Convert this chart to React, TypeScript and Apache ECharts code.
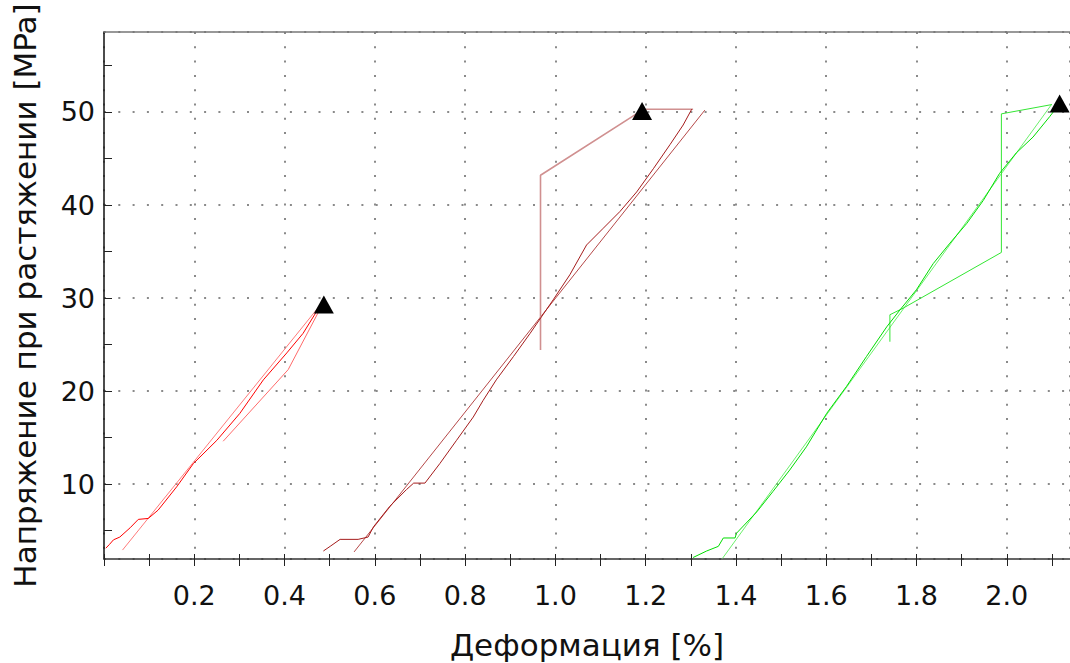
import React, { useEffect, useRef } from "react";
import * as echarts from "echarts";

// ---- data ----
const redMain: [number, number][] = [
  [0.004, 3.1], [0.012, 3.5], [0.021, 4.0], [0.035, 4.3], [0.058, 5.3], [0.076, 6.2],
  [0.098, 6.3], [0.12, 7.2], [0.161, 9.7], [0.198, 12.2], [0.25, 14.7], [0.301, 17.6],
  [0.353, 21.2], [0.405, 24.1], [0.441, 26.2], [0.478, 29.1],
];
const redFit: [number, number][] = [[0.041, 2.9], [0.48, 29.3]];
const redReturn: [number, number][] = [[0.264, 14.6], [0.408, 22.3], [0.485, 29.4]];

const brownMain: [number, number][] = [
  [0.486, 2.8], [0.501, 3.3], [0.523, 4.05], [0.563, 4.05], [0.585, 4.3], [0.597, 5.4],
  [0.633, 7.6], [0.67, 9.4], [0.686, 10.1], [0.711, 10.1], [0.744, 12.2], [0.781, 14.7],
  [0.818, 17.2], [0.84, 19.0], [0.869, 21.2], [0.907, 23.7], [0.944, 26.2], [0.995, 29.8],
  [1.032, 32.5], [1.069, 35.7], [1.106, 37.5], [1.143, 39.3], [1.18, 41.4], [1.217, 43.9],
  [1.254, 46.5], [1.283, 48.6], [1.302, 50.3],
];
const brownFit: [number, number][] = [[0.554, 2.7], [1.331, 50.2]];
const brownReturn: [number, number][] = [[0.967, 24.4], [0.967, 43.2], [1.196, 50.3], [1.305, 50.3]];

const greenMain: [number, number][] = [
  [1.305, 2.1], [1.335, 2.8], [1.361, 3.3], [1.372, 4.2], [1.398, 4.2], [1.401, 4.7],
  [1.446, 7.0], [1.482, 9.2], [1.519, 11.5], [1.556, 14.0], [1.601, 17.6], [1.645, 20.5],
  [1.689, 23.7], [1.734, 26.9], [1.763, 28.7], [1.8, 30.9], [1.837, 33.7], [1.874, 35.9],
  [1.911, 38.0], [1.948, 40.5], [1.984, 43.4], [2.021, 45.6], [2.058, 47.3], [2.095, 49.5],
  [2.106, 50.2],
];
const greenFit: [number, number][] = [[1.37, 2.0], [2.099, 50.8]];
const greenReturn: [number, number][] = [
  [1.741, 25.3], [1.741, 28.2], [1.77, 28.9], [1.988, 34.9], [1.988, 49.8], [2.1, 50.8],
];

const peaks: [number, number][] = [[0.487, 29.3], [1.192, 50.1], [2.117, 50.9]];

const xTitle = "Деформация [%]";
const yTitle = "Напряжение при растяжении [MPa]";

const FONT = "DejaVu Sans";
const Y_MIN = 1.94;
const Y_MAX = 58.6;

function line(data: [number, number][], color: string, width = 1) {
  return {
    type: "line",
    data,
    showSymbol: false,
    symbol: "none",
    lineStyle: { color, width },
    silent: true,
    z: 3,
  };
}

export default function App() {
  const ref = useRef<HTMLDivElement>(null);
  useEffect(() => {
    if (!ref.current) return;
    const chart = echarts.init(ref.current, undefined, { renderer: "svg" });
    const dotted = { type: [2, 12.3], width: 2, color: "#8a8a8a" };
    const near = (v: number, step: number) => Math.abs(v / step - Math.round(v / step)) < 1e-6;
    chart.setOption({
      animation: false,
      backgroundColor: "#fff",
      grid: { left: 104, top: 32, right: 0, bottom: 104, containLabel: false, outerBoundsMode: "none" },
      xAxis: [
        {
          type: "value",
          min: 0,
          max: 2.14,
          interval: 0.2,
          position: "bottom",
          axisLine: { show: true, lineStyle: { color: "#333", width: 1.5 } },
          axisTick: { show: true, inside: false, length: 7, lineStyle: { color: "#222" } },
          minorTick: { show: true, splitNumber: 2, length: 7, lineStyle: { color: "#222" } },
          axisLabel: {
            fontFamily: FONT,
            fontSize: 27,
            color: "#111",
            margin: 23,
            showMinLabel: false,
            showMaxLabel: false,
            formatter: (v: number) => (near(v, 0.2) && v > 0 ? v.toFixed(1) : ""),
          },
          splitLine: { show: true, lineStyle: dotted },
          name: xTitle,
          nameLocation: "middle",
          nameGap: 70,
          nameTextStyle: { fontFamily: FONT, fontSize: 31, color: "#111" },
        },
        {
          type: "value",
          min: 0,
          max: 2.14,
          interval: 0.2,
          position: "bottom",
          axisLine: { show: false },
          axisTick: { show: true, inside: true, length: 5, lineStyle: { color: "#222" } },
          minorTick: { show: true, splitNumber: 2, length: 5, lineStyle: { color: "#222" } },
          axisLabel: { show: false },
          splitLine: { show: false },
        },
        {
          type: "value",
          min: 0,
          max: 2.14,
          position: "top",
          axisLine: { show: true, lineStyle: { color: "#777", width: 1.5 } },
          axisTick: { show: false },
          axisLabel: { show: false },
          splitLine: { show: false },
        },
      ],
      yAxis: [
        {
          type: "value",
          min: Y_MIN,
          max: Y_MAX,
          splitNumber: 12,
          position: "left",
          axisLine: { show: true, lineStyle: { color: "#111", width: 1.5 } },
          axisTick: { show: true, inside: true, length: 8, lineStyle: { color: "#222" } },
          axisLabel: {
            fontFamily: FONT,
            fontSize: 27,
            color: "#111",
            margin: 9,
            showMinLabel: false,
            showMaxLabel: false,
            formatter: (v: number) => (near(v, 10) ? String(Math.round(v)) : ""),
          },
          splitLine: { show: false },
          name: yTitle,
          nameLocation: "middle",
          nameGap: 64,
          nameTextStyle: { fontFamily: FONT, fontSize: 31, color: "#111" },
        },
        {
          type: "value",
          min: Y_MIN,
          max: Y_MAX,
          splitNumber: 6,
          position: "left",
          axisLine: { show: false },
          axisTick: { show: false },
          axisLabel: { show: false },
          splitLine: { show: true, lineStyle: dotted },
        },
      ],
      series: [
        line(redFit, "#ff7a7a"),
        line(redReturn, "#ff6a6a"),
        line(redMain, "#ff0000"),
        line(brownFit, "#b54848"),
        line(brownReturn, "#d09090", 1.6),
        line(brownMain, "#a51c1c"),
        line(greenFit, "#6cf06c"),
        line(greenReturn, "#33e633"),
        line(greenMain, "#00dd00"),
        {
          type: "scatter",
          data: peaks,
          symbol: "triangle",
          symbolSize: [20, 18],
          itemStyle: { color: "#000", opacity: 1 },
          z: 5,
          silent: true,
        },
      ],
    });
    return () => chart.dispose();
  }, []);
  return (
    <div
      ref={ref}
      style={{ position: "fixed", left: 0, top: 0, width: 1070, height: 663 }}
    />
  );
}
